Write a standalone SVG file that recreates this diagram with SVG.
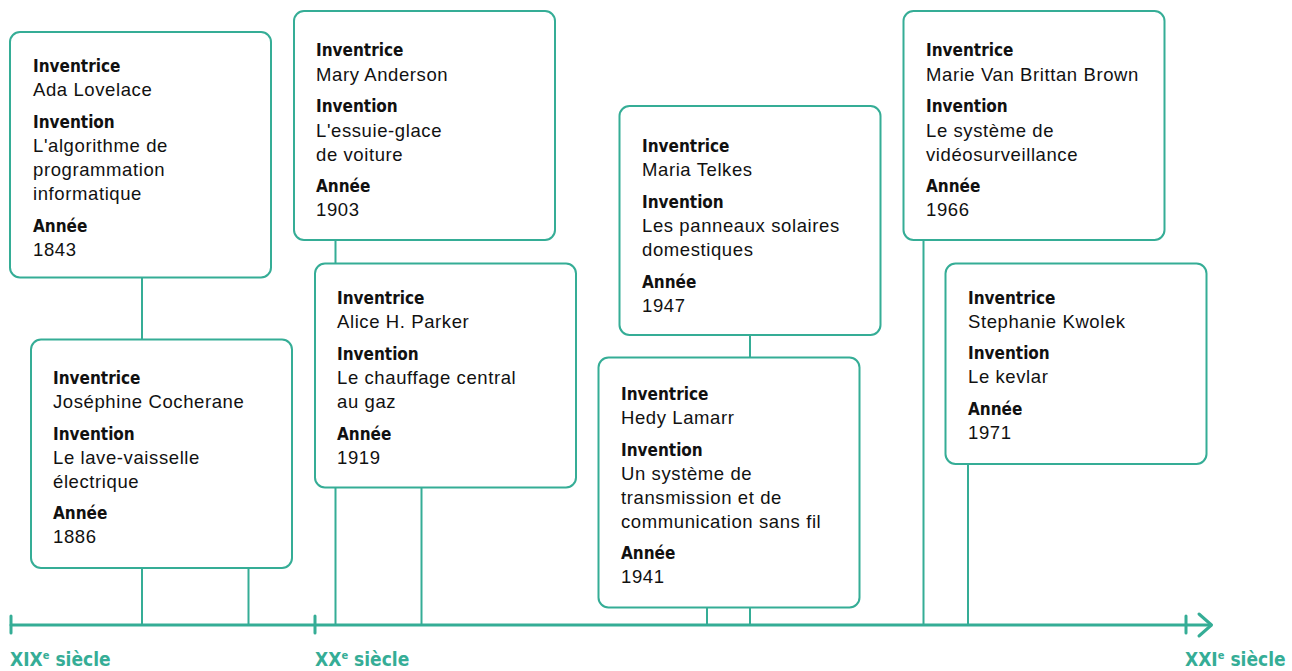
<svg xmlns="http://www.w3.org/2000/svg" width="1292" height="671" viewBox="0 0 1292 671">
<style>
.box{fill:#fff;stroke:#35ad96;stroke-width:2}
.conn{stroke:#35ad96;stroke-width:2;fill:none}
.axis{stroke:#35ad96;stroke-width:3;fill:none;stroke-linecap:round;stroke-linejoin:round}
.h{font-family:"DejaVu Sans Condensed","DejaVu Sans",sans-serif;font-stretch:condensed;font-weight:bold;font-size:17px;fill:#111}
.v{font-family:"Liberation Sans",Arial,sans-serif;font-size:18.5px;letter-spacing:0.6px;fill:#111}
.lbl{font-family:"DejaVu Sans Condensed","DejaVu Sans",sans-serif;font-stretch:condensed;font-weight:bold;font-size:19px;fill:#35ad96}
</style>
<rect width="1292" height="671" fill="#fff"/>
<g id="connectors">
<line class="conn" x1="142" y1="277" x2="142" y2="625"/>
<line class="conn" x1="248.5" y1="568" x2="248.5" y2="625"/>
<line class="conn" x1="335.5" y1="240" x2="335.5" y2="625"/>
<line class="conn" x1="421.5" y1="487" x2="421.5" y2="625"/>
<line class="conn" x1="750" y1="335" x2="750" y2="625"/>
<line class="conn" x1="707" y1="607" x2="707" y2="625"/>
<line class="conn" x1="923.5" y1="240" x2="923.5" y2="625"/>
<line class="conn" x1="968" y1="464" x2="968" y2="625"/>
</g>
<g id="timeline">
<line class="axis" x1="11" y1="625" x2="1211" y2="625"/>
<line class="axis" x1="11" y1="616" x2="11" y2="633"/>
<line class="axis" x1="315" y1="616" x2="315" y2="633"/>
<line class="axis" x1="1186" y1="616" x2="1186" y2="633"/>
<polyline class="axis" points="1199,614 1211.5,625 1199,636"/>
<text class="lbl" x="10" y="666">XIX<tspan font-size="11" dy="-7">e</tspan><tspan dy="7"> siècle</tspan></text>
<text class="lbl" x="315" y="666">XX<tspan font-size="11" dy="-7">e</tspan><tspan dy="7"> siècle</tspan></text>
<text class="lbl" x="1185" y="666">XXI<tspan font-size="11" dy="-7">e</tspan><tspan dy="7"> siècle</tspan></text>
</g>
<g id="node-lovelace">
<rect class="box" x="10" y="32" width="261" height="245.5" rx="10"/>
<text class="h" x="33" y="72">Inventrice</text>
<text class="v" x="33" y="96">Ada Lovelace</text>
<text class="h" x="33" y="128">Invention</text>
<text class="v" x="33" y="152">L'algorithme de</text>
<text class="v" x="33" y="176">programmation</text>
<text class="v" x="33" y="200">informatique</text>
<text class="h" x="33" y="231.5">Année</text>
<text class="v" x="33" y="255.5">1843</text>
</g>
<g id="node-anderson">
<rect class="box" x="294" y="11" width="261" height="229" rx="10"/>
<text class="h" x="316" y="56">Inventrice</text>
<text class="v" x="316" y="80.5">Mary Anderson</text>
<text class="h" x="316" y="112">Invention</text>
<text class="v" x="316" y="136.5">L'essuie-glace</text>
<text class="v" x="316" y="160.5">de voiture</text>
<text class="h" x="316" y="191.5">Année</text>
<text class="v" x="316" y="215.5">1903</text>
</g>
<g id="node-parker">
<rect class="box" x="315" y="263.5" width="261" height="224" rx="10"/>
<text class="h" x="337" y="304">Inventrice</text>
<text class="v" x="337" y="328">Alice H. Parker</text>
<text class="h" x="337" y="360">Invention</text>
<text class="v" x="337" y="384">Le chauffage central</text>
<text class="v" x="337" y="408">au gaz</text>
<text class="h" x="337" y="439.5">Année</text>
<text class="v" x="337" y="464">1919</text>
</g>
<g id="node-cocherane">
<rect class="box" x="31" y="339.5" width="261" height="228.5" rx="10"/>
<text class="h" x="53" y="384">Inventrice</text>
<text class="v" x="53" y="408">Joséphine Cocherane</text>
<text class="h" x="53" y="440">Invention</text>
<text class="v" x="53" y="463.5">Le lave-vaisselle</text>
<text class="v" x="53" y="487.5">électrique</text>
<text class="h" x="53" y="519">Année</text>
<text class="v" x="53" y="543">1886</text>
</g>
<g id="node-telkes">
<rect class="box" x="619.5" y="106" width="261" height="229" rx="10"/>
<text class="h" x="642" y="152">Inventrice</text>
<text class="v" x="642" y="176">Maria Telkes</text>
<text class="h" x="642" y="208">Invention</text>
<text class="v" x="642" y="232">Les panneaux solaires</text>
<text class="v" x="642" y="256">domestiques</text>
<text class="h" x="642" y="288">Année</text>
<text class="v" x="642" y="312">1947</text>
</g>
<g id="node-lamarr">
<rect class="box" x="598.5" y="357.5" width="261" height="250" rx="10"/>
<text class="h" x="621" y="400">Inventrice</text>
<text class="v" x="621" y="424">Hedy Lamarr</text>
<text class="h" x="621" y="455.5">Invention</text>
<text class="v" x="621" y="479.5">Un système de</text>
<text class="v" x="621" y="503.5">transmission et de</text>
<text class="v" x="621" y="527.5">communication sans fil</text>
<text class="h" x="621" y="559">Année</text>
<text class="v" x="621" y="583">1941</text>
</g>
<g id="node-brown">
<rect class="box" x="903.5" y="11" width="261" height="229" rx="10"/>
<text class="h" x="926" y="56">Inventrice</text>
<text class="v" x="926" y="80.5">Marie Van Brittan Brown</text>
<text class="h" x="926" y="112">Invention</text>
<text class="v" x="926" y="136.5">Le système de</text>
<text class="v" x="926" y="160.5">vidéosurveillance</text>
<text class="h" x="926" y="191.5">Année</text>
<text class="v" x="926" y="215.5">1966</text>
</g>
<g id="node-kwolek">
<rect class="box" x="945.5" y="263.5" width="261" height="200.5" rx="10"/>
<text class="h" x="968" y="303.5">Inventrice</text>
<text class="v" x="968" y="327.5">Stephanie Kwolek</text>
<text class="h" x="968" y="359">Invention</text>
<text class="v" x="968" y="383">Le kevlar</text>
<text class="h" x="968" y="415">Année</text>
<text class="v" x="968" y="439">1971</text>
</g>
</svg>
